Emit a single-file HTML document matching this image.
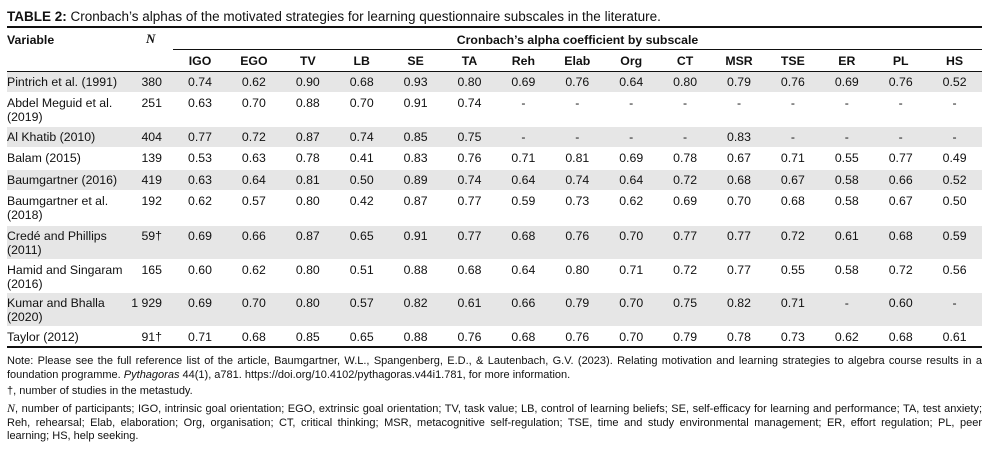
<!DOCTYPE html>
<html><head><meta charset="utf-8">
<style>
body{margin:0;background:#fff;width:1001px;height:451px;position:relative;overflow:hidden;font-family:"Liberation Sans",sans-serif;color:#111;}
.a{position:absolute;white-space:nowrap;font-size:12.3px;line-height:14px;}
.b{font-weight:bold;}
.ln{position:absolute;background:#111;}
.sh{position:absolute;background:#e6e6e6;left:7px;width:975px;}
.note{position:absolute;left:7px;width:975px;font-size:11px;line-height:13.5px;}
.j{display:block;text-align:justify;text-align-last:justify;white-space:nowrap;}
.j2{display:block;white-space:nowrap;}
</style></head><body>
<div class="a" style="left:7px;top:9px;font-size:13.5px;line-height:16px"><b>TABLE 2:</b> Cronbach’s alphas of the motivated strategies for learning questionnaire subscales in the literature.</div>
<div class="ln" style="left:7px;top:26px;width:975px;height:2px"></div>
<div class="a b" style="left:7px;top:33px">Variable</div>
<div class="a b" style="left:146px;top:32px;font-family:'Liberation Serif',serif;font-style:italic;font-size:13px">N</div>
<div class="a b" style="left:173px;width:809px;text-align:center;top:33px">Cronbach’s alpha coefficient by subscale</div>
<div class="ln" style="left:173px;top:49px;width:809px;height:1px"></div>
<div class="ln" style="left:7px;top:71px;width:975px;height:1px"></div>
<div class="ln" style="left:7px;top:346px;width:975px;height:2px"></div>
<div id="tbl"></div>
<div class="note" style="top:355px"><span class="j">Note: Please see the full reference list of the article, Baumgartner, W.L., Spangenberg, E.D., &amp; Lautenbach, G.V. (2023). Relating motivation and learning strategies to algebra course results in a</span><span class="j2">foundation programme. <i>Pythagoras</i> 44(1), a781. https://doi.org/10.4102/pythagoras.v44i1.781, for more information.</span></div>
<div class="note" style="top:385px">†, number of studies in the metastudy.</div>
<div class="note" style="top:402px"><span class="j"><i style="font-family:'Liberation Serif',serif;font-size:12px">N</i>, number of participants; IGO, intrinsic goal orientation; EGO, extrinsic goal orientation; TV, task value; LB, control of learning beliefs; SE, self-efficacy for learning and performance; TA, test anxiety;</span><span class="j">Reh, rehearsal; Elab, elaboration; Org, organisation; CT, critical thinking; MSR, metacognitive self-regulation; TSE, time and study environmental management; ER, effort regulation; PL, peer</span><span class="j2">learning; HS, help seeking.</span></div>
<script>
const subscales=["IGO","EGO","TV","LB","SE","TA","Reh","Elab","Org","CT","MSR","TSE","ER","PL","HS"];
const studies=[["Pintrich et al. (1991)"],["Abdel Meguid et al.","(2019)"],["Al Khatib (2010)"],["Balam (2015)"],["Baumgartner (2016)"],["Baumgartner et al.","(2018)"],["Credé and Phillips","(2011)"],["Hamid and Singaram","(2016)"],["Kumar and Bhalla","(2020)"],["Taylor (2012)"]];
const nValues=["380","251","404","139","419","192","59†","165","1 929","91†"];
const alphas=[
["0.74","0.62","0.90","0.68","0.93","0.80","0.69","0.76","0.64","0.80","0.79","0.76","0.69","0.76","0.52"],
["0.63","0.70","0.88","0.70","0.91","0.74","-","-","-","-","-","-","-","-","-"],
["0.77","0.72","0.87","0.74","0.85","0.75","-","-","-","-","0.83","-","-","-","-"],
["0.53","0.63","0.78","0.41","0.83","0.76","0.71","0.81","0.69","0.78","0.67","0.71","0.55","0.77","0.49"],
["0.63","0.64","0.81","0.50","0.89","0.74","0.64","0.74","0.64","0.72","0.68","0.67","0.58","0.66","0.52"],
["0.62","0.57","0.80","0.42","0.87","0.77","0.59","0.73","0.62","0.69","0.70","0.68","0.58","0.67","0.50"],
["0.69","0.66","0.87","0.65","0.91","0.77","0.68","0.76","0.70","0.77","0.77","0.72","0.61","0.68","0.59"],
["0.60","0.62","0.80","0.51","0.88","0.68","0.64","0.80","0.71","0.72","0.77","0.55","0.58","0.72","0.56"],
["0.69","0.70","0.80","0.57","0.82","0.61","0.66","0.79","0.70","0.75","0.82","0.71","-","0.60","-"],
["0.71","0.68","0.85","0.65","0.88","0.76","0.68","0.76","0.70","0.79","0.78","0.73","0.62","0.68","0.61"]];
const rowTops=[71,92,126,147,169,190,225,259,292,326,346];
const tbl=document.getElementById('tbl');
function colX(i){return 200+i*53.9;}
function mk(cls,txt,css){const d=document.createElement('div');d.className=cls;d.textContent=txt;d.style.cssText=css;tbl.appendChild(d);return d;}
subscales.forEach((s,i)=>{
 const d=mk('a b',s,`left:${colX(i)-25}px;width:50px;text-align:center;top:54px`);
 
 
});
studies.forEach((st,r)=>{
 const top=rowTops[r];
 if(r%2===0){const s=document.createElement('div');s.className='sh';s.style.top=(top+1)+'px';s.style.height=(rowTops[r+1]-top-1)+'px';
  
  
  tbl.appendChild(s);}
 const v=mk('a',st.join('\n'),`left:7px;top:${top+4}px;white-space:pre;line-height:14px`);
 
 
 const n=mk('a',nValues[r],`left:115px;width:47px;text-align:right;top:${top+4}px`);
 
 
 alphas[r].forEach((a,i)=>{
  const c=mk('a',a,`left:${colX(i)-25}px;width:50px;text-align:center;top:${top+4}px`);
  
  
 });
});
</script>
</body></html>
